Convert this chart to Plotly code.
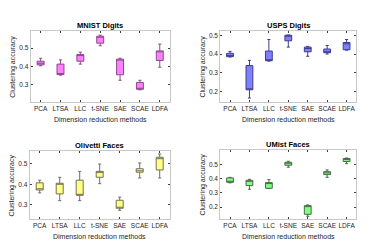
import plotly.graph_objects as go

methods = ["PCA", "LTSA", "LLC", "t-SNE", "SAE", "SCAE", "LDFA"]

# MNIST Digits
mnist_lo = [0.404, 0.353, 0.413, 0.513, 0.325, 0.273, 0.396]
mnist_q1 = [0.409, 0.356, 0.429, 0.527, 0.355, 0.276, 0.433]
mnist_med = [0.418, 0.360, 0.462, 0.560, 0.437, 0.280, 0.480]
mnist_q3 = [0.429, 0.413, 0.465, 0.565, 0.440, 0.313, 0.485]
mnist_hi = [0.445, 0.436, 0.478, 0.571, 0.445, 0.325, 0.522]

# USPS Digits
usps_lo = [0.384, 0.164, 0.362, 0.437, 0.388, 0.400, 0.421]
usps_q1 = [0.386, 0.208, 0.364, 0.471, 0.412, 0.407, 0.423]
usps_med = [0.390, 0.212, 0.367, 0.496, 0.430, 0.410, 0.455]
usps_q3 = [0.404, 0.338, 0.416, 0.501, 0.437, 0.427, 0.462]
usps_hi = [0.414, 0.366, 0.478, 0.502, 0.441, 0.446, 0.478]

# Olivetti Faces
oliv_lo = [0.358, 0.320, 0.320, 0.403, 0.273, 0.431, 0.431]
oliv_q1 = [0.372, 0.353, 0.346, 0.434, 0.283, 0.459, 0.470]
oliv_med = [0.378, 0.400, 0.350, 0.460, 0.287, 0.466, 0.525]
oliv_q3 = [0.407, 0.405, 0.420, 0.463, 0.322, 0.476, 0.532]
oliv_hi = [0.420, 0.434, 0.463, 0.499, 0.337, 0.504, 0.548]

# UMist Faces
umist_lo = [0.370, 0.325, 0.330, 0.480, 0.135, 0.409, 0.505]
umist_q1 = [0.374, 0.351, 0.332, 0.494, 0.149, 0.428, 0.520]
umist_med = [0.380, 0.383, 0.365, 0.510, 0.205, 0.440, 0.535]
umist_q3 = [0.405, 0.388, 0.372, 0.515, 0.210, 0.449, 0.541]
umist_hi = [0.409, 0.395, 0.393, 0.522, 0.215, 0.461, 0.545]

panels = [
    dict(title="MNIST Digits", lo=mnist_lo, q1=mnist_q1, med=mnist_med, q3=mnist_q3, hi=mnist_hi,
         fill="#ff80ff", edge="#8a4a8a", yr=[0.205, 0.595], ticks=[0.3, 0.4, 0.5],
         dx=[22.7, 161.7], dy=[22.7, 94.3]),
    dict(title="USPS Digits", lo=usps_lo, q1=usps_q1, med=usps_med, q3=usps_q3, hi=usps_hi,
         fill="#8080ff", edge="#3c3c8c", yr=[0.141, 0.522], ticks=[0.2, 0.3, 0.4, 0.5],
         dx=[212.3, 348.3], dy=[23.3, 94.3]),
    dict(title="Olivetti Faces", lo=oliv_lo, q1=oliv_q1, med=oliv_med, q3=oliv_q3, hi=oliv_hi,
         fill="#ffff80", edge="#707060", yr=[0.229, 0.561], ticks=[0.3, 0.4, 0.5],
         dx=[21.7, 161.7], dy=[143.3, 211.3]),
    dict(title="UMist Faces", lo=umist_lo, q1=umist_q1, med=umist_med, q3=umist_q3, hi=umist_hi,
         fill="#80ff80", edge="#4a6a4a", yr=[0.114, 0.599], ticks=[0.2, 0.3, 0.4, 0.5],
         dx=[212.3, 348.3], dy=[142.3, 211.3]),
]

W, H = 389, 248
FONT = "Liberation Sans, Arial, sans-serif"
fig = go.Figure()
annotations = []

for i, p in enumerate(panels):
    n = "" if i == 0 else str(i + 1)
    xa, ya = "x" + n, "y" + n
    fig.add_trace(go.Box(
        x=methods, q1=p["q1"], median=p["med"], q3=p["q3"],
        lowerfence=p["lo"], upperfence=p["hi"],
        fillcolor=p["fill"], line=dict(color=p["edge"], width=1),
        whiskerwidth=0.45, boxpoints=False, xaxis=xa, yaxis=ya,
        showlegend=False, hoverinfo="skip",
    ))
    xd = [p["dx"][0] / W, p["dx"][1] / W]
    yd = [1 - p["dy"][1] / H, 1 - p["dy"][0] / H]
    axcommon = dict(showline=True, mirror="ticks", linecolor="#c8c8c8", linewidth=1,
                    ticks="inside", ticklen=2, tickcolor="#404040",
                    showgrid=False, zeroline=False,
                    tickfont=dict(family=FONT, size=6.5, color="#262626"))
    fig.update_layout(**{
        ("xaxis" + n): dict(domain=xd, anchor=ya, type="category",
                            categoryorder="array", categoryarray=methods,
                            range=[-0.5, 6.5], tickangle=0, **axcommon),
        ("yaxis" + n): dict(domain=yd, anchor=xa, range=p["yr"],
                            tickvals=p["ticks"], ticktext=[f"{t:.1f}" for t in p["ticks"]],
                            **axcommon),
    })
    cx = (p["dx"][0] + p["dx"][1]) / 2 / W
    annotations.append(dict(text="<b>" + p["title"] + "</b>", x=cx, y=1 - (p["dy"][0] - 5.5) / H,
                            xref="paper", yref="paper", showarrow=False,
                            font=dict(family=FONT, size=7.5, color="#000000"),
                            xanchor="center", yanchor="middle"))
    annotations.append(dict(text="Dimension reduction methods", x=cx, y=1 - (p["dy"][1] + 17.5) / H,
                            xref="paper", yref="paper", showarrow=False,
                            font=dict(family=FONT, size=7, color="#262626"),
                            xanchor="center", yanchor="middle"))
    cy = 1 - (p["dy"][0] + p["dy"][1]) / 2 / H
    annotations.append(dict(text="Clustering accuracy", x=(p["dx"][0] - 17.5) / W, y=cy,
                            xref="paper", yref="paper", showarrow=False, textangle=-90,
                            font=dict(family=FONT, size=7, color="#262626"),
                            xanchor="center", yanchor="middle"))

fig.update_layout(width=W, height=H, autosize=False,
                  margin=dict(l=0, r=0, t=0, b=0),
                  paper_bgcolor="white", plot_bgcolor="white",
                  boxgap=0.5, annotations=annotations)

fig.write_html("out.html")
